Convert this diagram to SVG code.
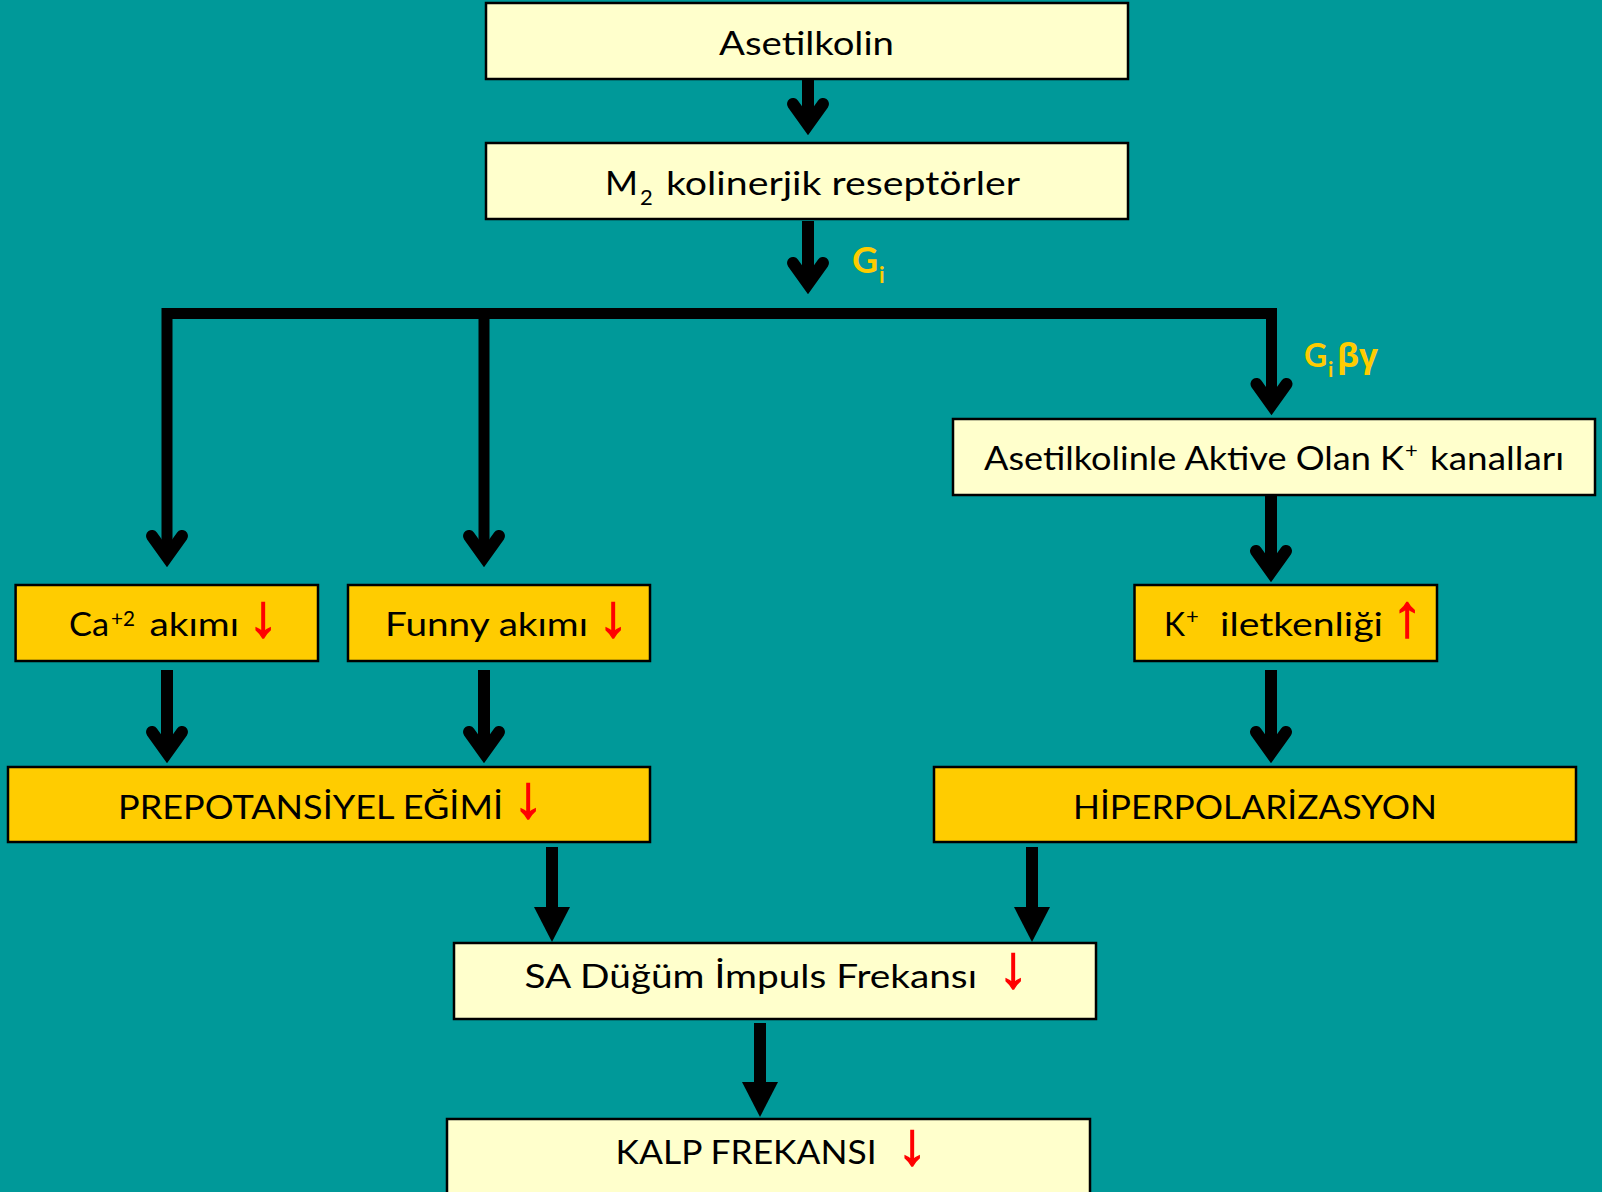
<svg xmlns="http://www.w3.org/2000/svg" xmlns:xlink="http://www.w3.org/1999/xlink" width="1602" height="1192" viewBox="0 0 1602 1192">
<style>
.lt{fill:#FFFFCC;stroke:#000;stroke-width:2.5}
.gd{fill:#FFCC00;stroke:#000;stroke-width:2.5}
.t{font-family:Lato,"Open Sans","DejaVu Sans",sans-serif;font-size:33px;fill:#000}
.s{font-family:Lato,"Open Sans","DejaVu Sans",sans-serif;font-size:22px;fill:#000}
.y{font-family:Lato,"Open Sans","DejaVu Sans",sans-serif;font-weight:bold;fill:#FFCC00}
.r{font-family:"Liberation Sans","DejaVu Sans",sans-serif;font-size:60px;fill:#FF0000;stroke:#FF0000;stroke-width:1.4;text-anchor:middle}
.ln{fill:none;stroke:#000;stroke-width:12}
</style>
<defs>
<polyline id="hr" points="-15,-34 0,-13 15,-34" fill="none" stroke="#000" stroke-width="12" stroke-linecap="round" stroke-linejoin="miter"/>
<path id="ht" d="M-18,-35 L18,-35 L0,0 Z" fill="#000"/>
</defs>
<rect width="1602" height="1192" fill="#009999"/>

<g id="connectors">
<path class="ln" d="M808,73 V126"/>
<use xlink:href="#hr" x="808" y="138"/>
<path class="ln" d="M808,221 V285"/>
<use xlink:href="#hr" x="808" y="297"/>
<path class="ln" style="stroke-width:11" d="M167,558 V313.5 H1271.5 V406"/>
<path class="ln" style="stroke-width:11" d="M484,313.5 V558"/>
<use xlink:href="#hr" x="167" y="570"/>
<use xlink:href="#hr" x="484" y="570"/>
<use xlink:href="#hr" x="1271.5" y="418"/>
<path class="ln" d="M1271,489 V573"/>
<use xlink:href="#hr" x="1271" y="585"/>
<path class="ln" d="M167,670 V754"/>
<use xlink:href="#hr" x="167" y="766"/>
<path class="ln" d="M484,670 V754"/>
<use xlink:href="#hr" x="484" y="766"/>
<path class="ln" d="M1271,670 V754"/>
<use xlink:href="#hr" x="1271" y="766"/>
<path class="ln" d="M552,847 V910"/>
<use xlink:href="#ht" x="552" y="942"/>
<path class="ln" d="M1032,847 V910"/>
<use xlink:href="#ht" x="1032" y="942"/>
<path class="ln" d="M760,1023 V1086"/>
<use xlink:href="#ht" x="760" y="1117"/>
<text class="y" x="852" y="273" font-size="36">G</text>
<text class="y" x="879" y="283" font-size="22">i</text>
<text class="y" x="1304" y="367" font-size="32">G</text>
<text class="y" x="1328" y="377" font-size="21">i</text>
<text class="y" x="1337" y="367" font-size="32" style="font-family:'Open Sans','DejaVu Sans',sans-serif" textLength="41" lengthAdjust="spacingAndGlyphs">βγ</text>
</g>

<g id="n-asetilkolin">
<rect class="lt" x="486" y="3" width="642" height="76"/>
<text class="t" x="719" y="55" textLength="175" lengthAdjust="spacingAndGlyphs">Asetilkolin</text>
</g>

<g id="n-m2">
<rect class="lt" x="486" y="143" width="642" height="76"/>
<text class="t" x="605" y="195" textLength="33" lengthAdjust="spacingAndGlyphs">M</text>
<text class="s" x="640" y="205">2</text>
<text class="t" x="666" y="195" textLength="354" lengthAdjust="spacingAndGlyphs">kolinerjik reseptörler</text>
</g>

<g id="n-kanal">
<rect class="lt" x="953" y="419" width="642" height="76"/>
<text class="t" x="984" y="470" textLength="420" lengthAdjust="spacingAndGlyphs">Asetilkolinle Aktive Olan K</text>
<text class="s" x="1405" y="458">+</text>
<text class="t" x="1430" y="470" textLength="134" lengthAdjust="spacingAndGlyphs">kanalları</text>
</g>

<g id="n-ca">
<rect class="gd" x="15.6" y="585" width="302.4" height="76"/>
<text class="t" x="69" y="636" textLength="40" lengthAdjust="spacingAndGlyphs">Ca</text>
<text class="s" x="111" y="626" textLength="24" lengthAdjust="spacingAndGlyphs">+2</text>
<text class="t" x="149.5" y="636" textLength="89.5" lengthAdjust="spacingAndGlyphs">akımı</text>
<text class="r" x="263" y="636">↓</text>
</g>

<g id="n-funny">
<rect class="gd" x="348" y="585" width="302" height="76"/>
<text class="t" x="385" y="636" textLength="203" lengthAdjust="spacingAndGlyphs">Funny akımı</text>
<text class="r" x="613" y="636">↓</text>
</g>

<g id="n-k">
<rect class="gd" x="1134.5" y="585" width="302.5" height="76"/>
<text class="t" x="1164" y="636" textLength="21" lengthAdjust="spacingAndGlyphs">K</text>
<text class="s" x="1186" y="624">+</text>
<text class="t" x="1220" y="636" textLength="163" lengthAdjust="spacingAndGlyphs">iletkenliği</text>
<text class="r" x="1407" y="636">↑</text>
</g>

<g id="n-prepot">
<rect class="gd" x="8" y="767" width="642" height="75"/>
<text class="t" x="118" y="819" textLength="385" lengthAdjust="spacingAndGlyphs">PREPOTANSİYEL EĞİMİ</text>
<text class="r" x="528" y="817">↓</text>
</g>

<g id="n-hiper">
<rect class="gd" x="934" y="767" width="642" height="75"/>
<text class="t" x="1073" y="819" textLength="364" lengthAdjust="spacingAndGlyphs">HİPERPOLARİZASYON</text>
</g>

<g id="n-sa">
<rect class="lt" x="454" y="943" width="642" height="76"/>
<text class="t" x="524.5" y="988" textLength="452.5" lengthAdjust="spacingAndGlyphs">SA Düğüm İmpuls Frekansı</text>
<text class="r" x="1013" y="987">↓</text>
</g>

<g id="n-kalp">
<rect class="lt" x="447" y="1119" width="643" height="85"/>
<text class="t" x="615.6" y="1164" textLength="261" lengthAdjust="spacingAndGlyphs">KALP FREKANSI</text>
<text class="r" x="912" y="1164">↓</text>
</g>
</svg>
